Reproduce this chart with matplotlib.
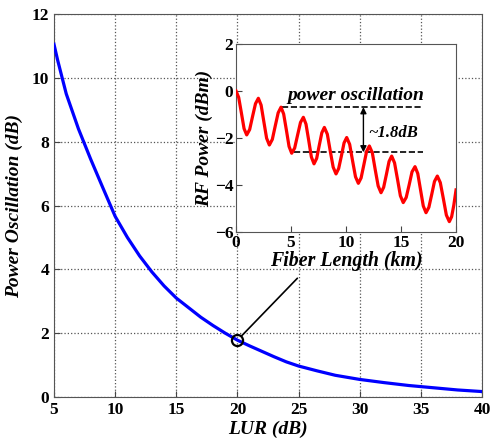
import matplotlib
matplotlib.use("Agg")
import matplotlib.pyplot as plt

plt.rcParams['font.family'] = ['Liberation Serif', 'DejaVu Serif']

# Main curve: power oscillation vs LUR
lur = [5, 5.3, 6, 7, 8, 9, 10, 11, 12, 13, 14, 15, 16, 17, 18, 19, 20,
       21, 22, 23, 24, 25, 26.5, 28, 30, 32, 34, 36, 38, 40]
osc = [11.05, 10.55, 9.5, 8.4, 7.45, 6.55, 5.66, 5.0, 4.42, 3.92, 3.48, 3.1, 2.8,
       2.5, 2.24, 2.0, 1.78, 1.6, 1.43, 1.26, 1.1, 0.97, 0.82, 0.68, 0.55, 0.45,
       0.36, 0.29, 0.22, 0.17]
marked_lur = 20
marked_osc = 1.78
callout_end = (24.9, 3.72)

main_xticks = [5, 10, 15, 20, 25, 30, 35, 40]
main_yticks = [0, 2, 4, 6, 8, 10, 12]

# Inset: RF power vs fiber length
fiber_km = [0, 0.24, 0.49, 0.73, 0.97,
            1.24, 1.50, 1.77, 2.03,
            2.28, 2.53, 2.78, 3.03,
            3.30, 3.56, 3.83, 4.09,
            4.33, 4.58, 4.82, 5.06,
            5.33, 5.59, 5.86, 6.12,
            6.36, 6.61, 6.85, 7.09,
            7.33, 7.56, 7.80, 8.03,
            8.30, 8.56, 8.83, 9.09,
            9.33, 9.58, 9.82, 10.06,
            10.33, 10.59, 10.86, 11.12,
            11.37, 11.62, 11.87, 12.12,
            12.39, 12.65, 12.92, 13.18,
            13.42, 13.67, 13.91, 14.15,
            14.41, 14.68, 14.94, 15.20,
            15.47, 15.74, 16.00, 16.27,
            16.52, 16.77, 17.02, 17.27,
            17.53, 17.79, 18.04, 18.30,
            18.57, 18.85, 19.12, 19.39,
            19.6, 19.8, 20.0]
rf_dbm = [0, -0.27, -0.94, -1.60, -1.87,
          -1.64, -1.09, -0.54, -0.31,
          -0.60, -1.31, -2.01, -2.30,
          -2.06, -1.50, -0.93, -0.69,
          -0.98, -1.67, -2.36, -2.65,
          -2.43, -1.89, -1.34, -1.12,
          -1.41, -2.11, -2.81, -3.10,
          -2.87, -2.33, -1.78, -1.55,
          -1.84, -2.54, -3.24, -3.53,
          -3.30, -2.76, -2.21, -1.98,
          -2.27, -2.96, -3.65, -3.93,
          -3.70, -3.14, -2.57, -2.34,
          -2.63, -3.34, -4.04, -4.33,
          -4.10, -3.55, -3.00, -2.77,
          -3.06, -3.76, -4.46, -4.75,
          -4.53, -3.99, -3.44, -3.22,
          -3.51, -4.20, -4.89, -5.18,
          -4.95, -4.40, -3.85, -3.62,
          -3.90, -4.59, -5.28, -5.56,
          -5.35, -4.85, -4.21]
upper_level = -0.69
lower_level = -2.61
upper_span = (4.15, 16.97)
lower_span = (5.3, 16.97)
arrow_x = 11.58

inset_xticks = [0, 5, 10, 15, 20]
inset_yticks = [-6, -4, -2, 0, 2]

fig = plt.figure(figsize=(4.91, 4.45), dpi=100)
ax = fig.add_axes([0.110, 0.1079, 0.8717, 0.8606])
ax.plot(lur, osc, color='#0000ff', lw=2.3, zorder=3, solid_joinstyle='round')
ax.plot([marked_lur], [marked_osc], marker='o', ms=8, mfc='none', mec='black',
        mew=1.6, zorder=4)
ax.annotate('', xy=(marked_lur, marked_osc), xytext=callout_end,
            arrowprops=dict(arrowstyle='-', color='black', lw=1.2,
                            shrinkA=0, shrinkB=4), zorder=4)
ax.set_xlim(5, 40)
ax.set_ylim(0, 12)
ax.set_xticks(main_xticks)
ax.set_yticks(main_yticks)
ax.grid(True, linestyle=':', color='#555555', lw=0.9)
ax.tick_params(direction='in', labelsize=12.5, length=4, color='#444444')
for lab in ax.get_xticklabels() + ax.get_yticklabels():
    lab.set_fontweight('bold')
for s in ax.spines.values():
    s.set_color('#555555')
ax.set_xlabel('LUR (dB)', fontsize=14, fontweight='bold', style='italic', labelpad=2)
ax.set_ylabel('Power Oscillation (dB)', fontsize=14, fontweight='bold',
              style='italic', labelpad=6)

ins = fig.add_axes([0.4807, 0.4787, 0.4481, 0.4225])
ins.plot(fiber_km, rf_dbm, color='#ff0000', lw=2.3, zorder=3, solid_joinstyle='round')
ins.plot(upper_span, [upper_level, upper_level], color='black', ls='--', lw=1.2)
ins.plot(lower_span, [lower_level, lower_level], color='black', ls='--', lw=1.2)
ins.annotate('', xy=(arrow_x, lower_level), xytext=(arrow_x, upper_level),
             arrowprops=dict(arrowstyle='<|-|>', color='black', lw=1.0,
                             mutation_scale=9, shrinkA=0, shrinkB=0))
ins.text(10.9, -0.2, 'power oscillation', fontsize=14, fontweight='bold',
         style='italic', ha='center', va='center')
ins.text(12.0, -1.8, '~1.8dB', fontsize=12, fontweight='bold', style='italic',
         ha='left', va='center')
ins.set_xlim(0, 20)
ins.set_ylim(-6, 2)
ins.set_xticks(inset_xticks)
ins.set_yticks(inset_yticks)
ins.tick_params(direction='in', labelsize=12.5, length=4, pad=2, color='#444444')
for lab in ins.get_xticklabels() + ins.get_yticklabels():
    lab.set_fontweight('bold')
for s in ins.spines.values():
    s.set_color('#555555')
ins.set_xlabel('Fiber Length (km)', fontsize=14.3, fontweight='bold',
               style='italic', labelpad=0)
ins.set_ylabel('RF Power (dBm)', fontsize=14, fontweight='bold',
               style='italic', labelpad=1)

fig.savefig('out.png', dpi=100)
